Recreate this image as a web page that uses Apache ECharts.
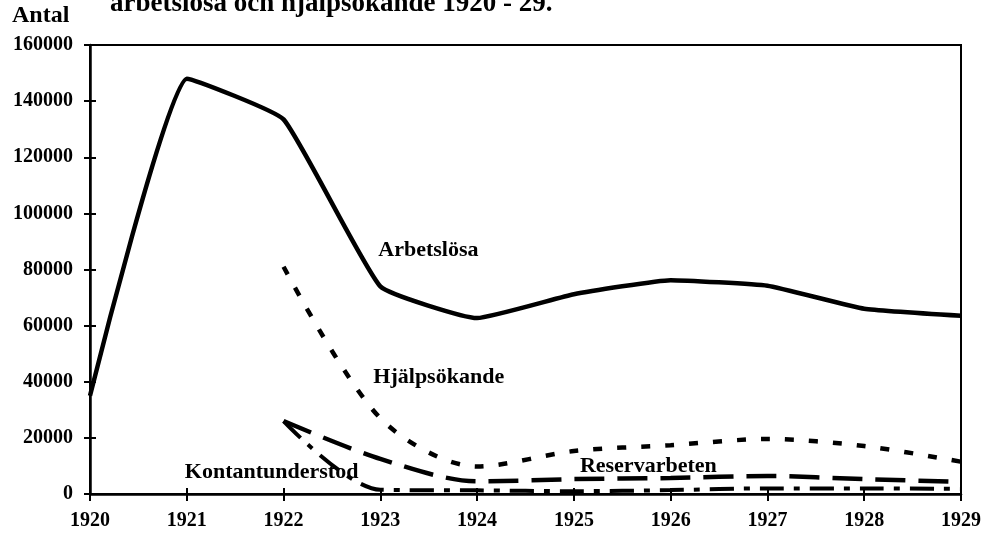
<!DOCTYPE html>
<html>
<head>
<meta charset="utf-8">
<script src="https://cdn.jsdelivr.net/npm/echarts@6/dist/echarts.min.js"></script>
<style>
html,body{margin:0;padding:0;background:#fff;}
#c{width:984px;height:536px;}
</style>
</head>
<body>
<div id="c"></div>
<script>
const years = ['1920','1921','1922','1923','1924','1925','1926','1927','1928','1929'];
const yTicks = [0,20000,40000,60000,80000,100000,120000,140000,160000];
const arbetslosa = [35000,148000,133500,74000,62700,71200,76200,74200,66000,63500];
const hjalpsokande = [null,null,81000,27000,9800,15300,17400,19600,17100,11500];
const reservarbeten = [null,null,26000,12500,4500,5300,5700,6400,5300,4300];
const kontantunderstod = [null,null,26000,1500,1300,1000,1400,2000,2000,1800];
const titleText = 'arbetslösa och hjälpsökande 1920 - 29.';
const yName = 'Antal';
const seriesLabels = ['Arbetslösa','Hjälpsökande','Reservarbeten','Kontantunderstod'];

const font = '"Liberation Serif", "Times New Roman", serif';
const chart = echarts.init(document.getElementById('c'), null, {renderer:'canvas'});
const lineBase = (name, data, type, width, smooth) => ({
  name, type:'line', data, symbol:'none', smooth, connectNulls:false,
  lineStyle:{color:'#000', width, type, cap:'butt'}, z:3
});
chart.setOption({
  animation:false,
  backgroundColor:'#fff',
  grid:{left:90, right:23, top:45, bottom:42, show:true, borderColor:'#000', borderWidth:2, backgroundColor:'transparent'},
  xAxis:[{
    type:'category', data:years, boundaryGap:false,
    axisLine:{lineStyle:{color:'#000', width:2.5}},
    axisTick:{show:true, length:7, lineStyle:{color:'#000', width:2}},
    axisLabel:{color:'#000', fontFamily:font, fontWeight:'bold', fontSize:20, margin:17},
    splitLine:{show:false}
  },{
    type:'category', data:years, boundaryGap:false, position:'bottom',
    axisLine:{show:false},
    axisTick:{show:true, inside:true, length:6, lineStyle:{color:'#000', width:2}},
    axisLabel:{show:false}, splitLine:{show:false}
  }],
  yAxis:[{
    type:'value', min:yTicks[0], max:yTicks[yTicks.length-1], interval:yTicks[1]-yTicks[0],
    axisLine:{show:true, lineStyle:{color:'#000', width:2.5}},
    axisTick:{show:true, length:6, lineStyle:{color:'#000', width:2}},
    axisLabel:{color:'#000', fontFamily:font, fontWeight:'bold', fontSize:20, margin:17, formatter:v=>String(v)},
    splitLine:{show:false}
  },{
    type:'value', min:yTicks[0], max:yTicks[yTicks.length-1], interval:yTicks[1]-yTicks[0], position:'left',
    axisLine:{show:false},
    axisTick:{show:true, inside:true, length:6, lineStyle:{color:'#000', width:2}},
    axisLabel:{show:false}, splitLine:{show:false}
  }],
  series:[
    lineBase(seriesLabels[0], arbetslosa, 'solid', 4.5, 0.12),
    lineBase(seriesLabels[1], hjalpsokande, [9,15], 4.5, 0.3),
    lineBase(seriesLabels[2], reservarbeten, [30,13], 4.5, 0.3),
    lineBase(seriesLabels[3], kontantunderstod, [24,10,6,10], 4, 0.3)
  ]
});
// Series name labels anchored to data coordinates
const labelAnchors = [
  {x:'1923', y:87000, dx:-2},
  {x:'1923', y:41500, dx:-7},
  {x:'1925', y:10000, dx:6},
  {x:'1921', y:7800, dx:-2}
];
const g = labelAnchors.map((a,i) => {
  const p = chart.convertToPixel({xAxisIndex:0, yAxisIndex:0}, [a.x, a.y]);
  return {type:'text', x:p[0]+a.dx, y:p[1], z:10,
    style:{text:seriesLabels[i], font:'bold 22px '+font, fill:'#000', verticalAlign:'middle'}};
});
chart.setOption({graphic:[
  {type:'text', left:110, top:-9, style:{text:titleText, font:'bold 27px '+font, fill:'#000'}},
  {type:'text', left:12, top:4, style:{text:yName, font:'bold 24px '+font, fill:'#000'}}
].concat(g)});
</script>
</body>
</html>
